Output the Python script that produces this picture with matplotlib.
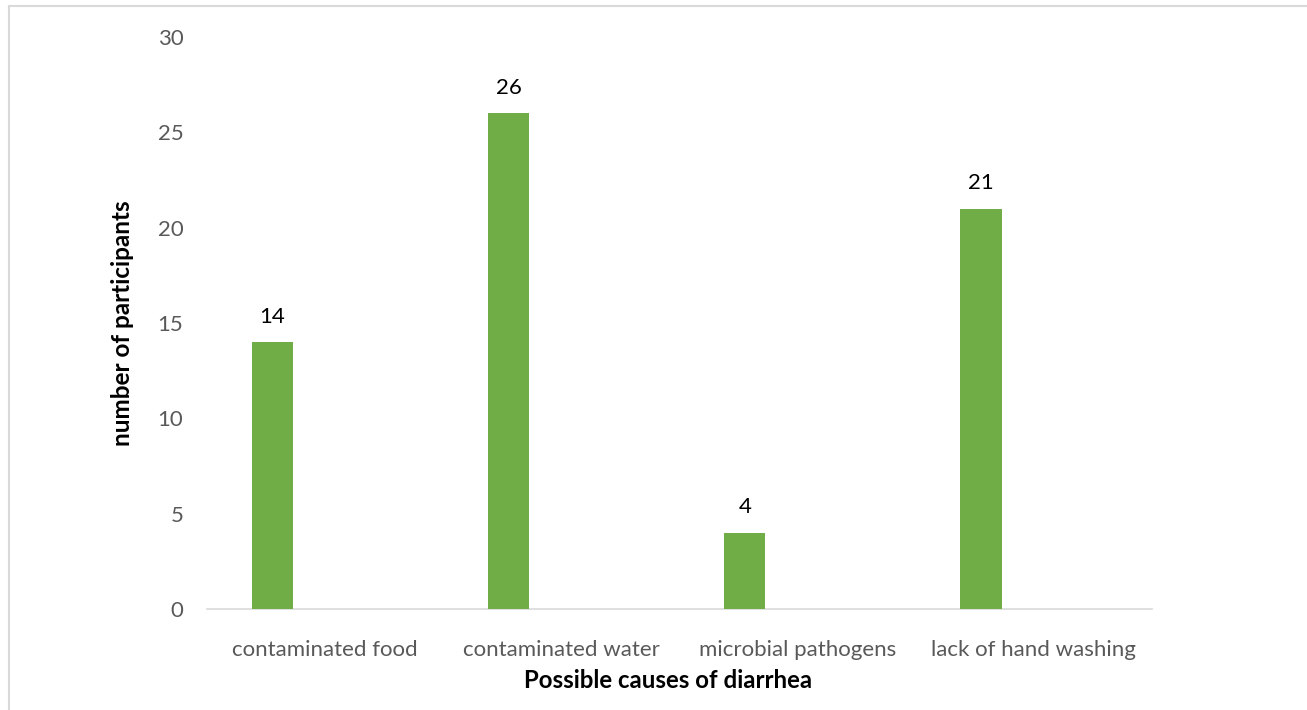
import matplotlib
matplotlib.use("Agg")
import matplotlib.pyplot as plt
from matplotlib.lines import Line2D

categories = ["contaminated food", "contaminated water", "microbial pathogens", "lack of hand washing"]
participants = [14, 26, 4, 21]
y_ticks = [0, 5, 10, 15, 20, 25, 30]

plt.rcParams["font.family"] = ["Lato", "DejaVu Sans"]

fig = plt.figure(figsize=(13.07, 7.10), dpi=100)
ax = fig.add_axes([207 / 1307, 101 / 710, 945 / 1307, 572 / 710])

green = "#70AD47"
tick_color = "#595959"
grid_color = "#D9D9D9"

x = list(range(len(categories)))
bar_pos = [i - 0.224 for i in x]
bars = ax.bar(bar_pos, participants, width=0.174, color=green, zorder=3)

for b, v in zip(bars, participants):
    ax.annotate(str(v), (b.get_x() + b.get_width() / 2, v), xytext=(0, 11),
                textcoords="offset points", ha="center", va="bottom",
                fontsize=16, color="black")

ax.set_xlim(-0.5, len(categories) - 0.5)
ax.set_ylim(0, 30)
ax.set_yticks(y_ticks)
ax.set_xticks(x)
ax.set_xticklabels(categories)
ax.tick_params(axis="both", length=0, labelsize=16, colors=tick_color)
ax.tick_params(axis="y", pad=17)
ax.tick_params(axis="x", pad=22)

for side in ["top", "right", "left"]:
    ax.spines[side].set_visible(False)
ax.spines["bottom"].set_color(grid_color)
ax.spines["bottom"].set_linewidth(1.2)

ax.set_xlabel("Possible causes of diarrhea", fontsize=17.3, fontweight="bold", labelpad=7)
ax.xaxis.label.set_x(0.488)
ax.set_ylabel("number of participants", fontsize=17.5, fontweight="bold", labelpad=17)

# chart area border
fig.add_artist(Line2D([8.5 / 1307, 8.5 / 1307], [0, 1 - 5.5 / 710], transform=fig.transFigure,
                      color=grid_color, lw=1.5))
fig.add_artist(Line2D([8.5 / 1307, 1306 / 1307], [1 - 5.5 / 710, 1 - 5.5 / 710], transform=fig.transFigure,
                      color=grid_color, lw=1.5))

fig.savefig("out.png", dpi=100)
